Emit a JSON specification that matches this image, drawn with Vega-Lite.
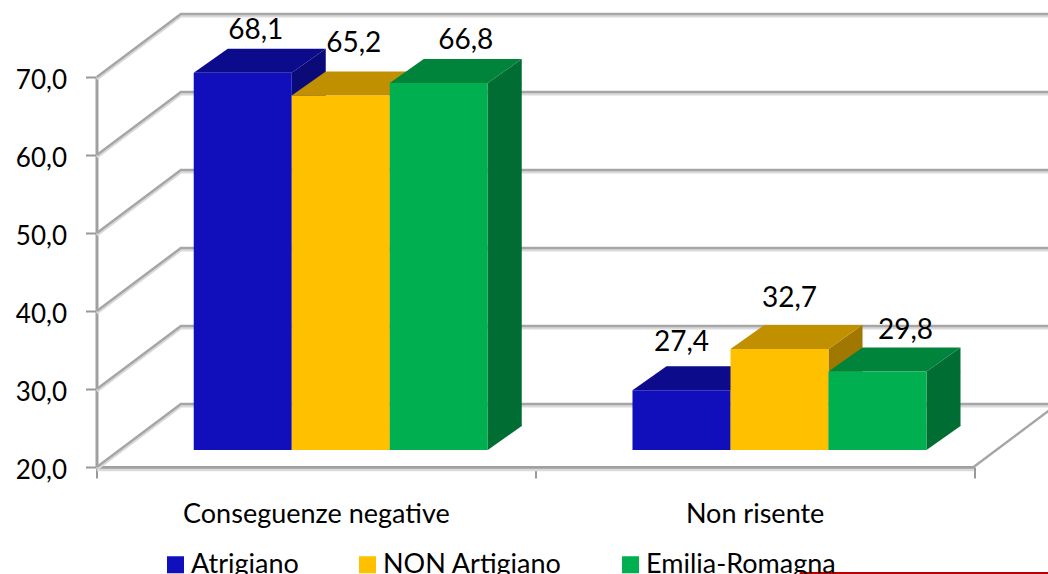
{
"$schema":"https://vega.github.io/schema/vega-lite/v6.json",
"width":877.5,"height":390,
"autosize":{"type":"none"},
"padding":{"left":96.5,"top":77,"right":74,"bottom":107},
"background":"white",
"config":{"view":{"stroke":null},"locale":{"number":{"decimal":",","thousands":".","grouping":[3],"currency":["","€"]}},"font":"Lato"},
"data":{"values":[
{"categoria":"Conseguenze negative","serie":"Atrigiano","valore":68.1},
{"categoria":"Conseguenze negative","serie":"NON Artigiano","valore":65.2},
{"categoria":"Conseguenze negative","serie":"Emilia-Romagna","valore":66.8},
{"categoria":"Non risente","serie":"Atrigiano","valore":27.4},
{"categoria":"Non risente","serie":"NON Artigiano","valore":32.7},
{"categoria":"Non risente","serie":"Emilia-Romagna","valore":29.8}
]},
"encoding":{
"x":{"field":"categoria","type":"nominal","scale":{"domain":["Conseguenze negative","Non risente"],"paddingInner":0,"paddingOuter":0},
"axis":{"title":null,"labelAngle":0,"labelFont":"Lato","labelFontSize":27,"labelColor":"#000","labelPadding":23,"domainColor":"#A0A0A0","domainWidth":3,"tickColor":"#999","tickWidth":2,"tickSize":11,"tickBand":"extent","labelLimit":400}},
"xOffset":{"field":"serie","type":"nominal","scale":{"domain":["Atrigiano","NON Artigiano","Emilia-Romagna"],"padding":0,"range":[121.25,317.25]}},
"y":{"field":"valore","type":"quantitative","scale":{"domain":[20,70],"nice":false,"zero":false},
"axis":{"title":null,"values":[20,30,40,50,60,70],"format":".1f","grid":false,"labelFont":"Lato","labelFontSize":26,"labelColor":"#000","labelPadding":19,"labelOffset":3,"domainColor":"#A0A0A0","domainWidth":3,"tickColor":"#999","tickWidth":2,"tickSize":11}}
},
"layer":[
{"data":{"values":[{"tick":20},{"tick":30},{"tick":40},{"tick":50},{"tick":60},{"tick":70}]},
 "mark":{"type":"point","shape":"M-219,2 L-135,-61 L740,-61","size":4,"filled":false,"fill":null,"stroke":"#DADADA","strokeWidth":3,"opacity":1},
 "encoding":{"x":{"datum":"Conseguenze negative"},"xOffset":null,"y":{"field":"tick","type":"quantitative"}}},
{"data":{"values":[{"tick":20},{"tick":30},{"tick":40},{"tick":50},{"tick":60},{"tick":70}]},
 "mark":{"type":"point","shape":"M-219,0 L-135,-63 L740,-63","size":4,"filled":false,"fill":null,"stroke":"#A6A6A6","strokeWidth":2.5,"opacity":1},
 "encoding":{"x":{"datum":"Conseguenze negative"},"xOffset":null,"y":{"field":"tick","type":"quantitative"}}},
{"data":{"values":[{"tick":20}]},
 "mark":{"type":"point","shape":"M-219,3 L658,3","size":4,"filled":false,"fill":null,"stroke":"#DADADA","strokeWidth":2.5,"opacity":1},
 "encoding":{"x":{"datum":"Conseguenze negative"},"xOffset":null,"y":{"field":"tick","type":"quantitative"}}},
{"data":{"values":[{"tick":20}]},
 "mark":{"type":"point","shape":"M219,0 L299,-60","size":4,"filled":false,"fill":null,"stroke":"#A6A6A6","strokeWidth":2.5,"opacity":1},
 "encoding":{"x":{"datum":"Non risente"},"xOffset":null,"y":{"field":"tick","type":"quantitative"}}},
{"data":{"values":[{"tick":20}]},
 "mark":{"type":"point","shape":"M45,106 L300,106","size":4,"filled":false,"fill":null,"stroke":"#C00000","strokeWidth":2,"opacity":1},
 "encoding":{"x":{"datum":"Non risente"},"xOffset":null,"y":{"field":"tick","type":"quantitative"}}},
{"mark":{"type":"bar","width":34,"yOffset":-19,"y2Offset":-41},
 "encoding":{"xOffset":{"field":"serie","type":"nominal","scale":{"domain":["Atrigiano","NON Artigiano","Emilia-Romagna"],"paddingInner":0,"paddingOuter":0.737,"range":[91,529.5]}},"y2":{"datum":20},"color":{"field":"serie","type":"nominal","legend":null,"scale":{"domain":["Atrigiano","NON Artigiano","Emilia-Romagna"],"range":["#0A0A78","#A07800","#006E32"]}}}},
{"mark":{"type":"point","shape":"M74,-19 L108,-43 L108,-18.5 L74,-18.5 Z","size":4,"filled":true,"opacity":1},
 "encoding":{"color":{"field":"serie","type":"nominal","legend":null,"scale":{"domain":["Atrigiano","NON Artigiano","Emilia-Romagna"],"range":["#0A0A78","#A07800","#006E32"]}}}},
{"mark":{"type":"point","shape":"M74,-17 L108,-41 L108,-41.5 L74,-41.5 Z","size":4,"filled":true,"opacity":1},
 "encoding":{"y":{"datum":20},"color":{"field":"serie","type":"nominal","legend":null,"scale":{"domain":["Atrigiano","NON Artigiano","Emilia-Romagna"],"range":["#0A0A78","#A07800","#006E32"]}}}},
{"mark":{"type":"point","shape":"M-24,-19 L74,-19 L108,-43 L10,-43 Z","size":4,"filled":true,"opacity":1},
 "encoding":{"color":{"field":"serie","type":"nominal","legend":null,"scale":{"domain":["Atrigiano","NON Artigiano","Emilia-Romagna"],"range":["#0B0B8C","#C09000","#00843C"]}}}},
{"mark":{"type":"bar","yOffset":-19,"y2Offset":-17},
 "encoding":{"xOffset":{"field":"serie","type":"nominal","scale":{"domain":["Atrigiano","NON Artigiano","Emilia-Romagna"],"paddingInner":0,"paddingOuter":0.737,"range":[25,463.5]}},"y2":{"datum":20},"color":{"field":"serie","type":"nominal","scale":{"domain":["Atrigiano","NON Artigiano","Emilia-Romagna"],"range":["#100FBB","#FFC000","#00B050"]},
 "legend":{"orient":"none","legendX":65.5,"legendY":474,"direction":"horizontal","columns":3,"title":null,"symbolType":"square","symbolSize":289,"symbolStrokeWidth":0,"labelFont":"Lato","labelFontSize":27,"labelColor":"#000","labelOffset":2,"columnPadding":55,"labelLimit":400}}}},
{"transform":[{"filter":"datum.categoria=='Conseguenze negative' && datum.serie=='Atrigiano'"}],
 "mark":{"type":"text","font":"Lato","fontSize":28,"color":"#000","dx":38,"dy":-61,"baseline":"middle"},"encoding":{"text":{"field":"valore","type":"quantitative","format":".1f"}}},
{"transform":[{"filter":"datum.categoria=='Conseguenze negative' && datum.serie=='NON Artigiano'"}],
 "mark":{"type":"text","font":"Lato","fontSize":28,"color":"#000","dx":38,"dy":-70,"baseline":"middle"},"encoding":{"text":{"field":"valore","type":"quantitative","format":".1f"}}},
{"transform":[{"filter":"datum.categoria=='Conseguenze negative' && datum.serie=='Emilia-Romagna'"}],
 "mark":{"type":"text","font":"Lato","fontSize":28,"color":"#000","dx":52,"dy":-61,"baseline":"middle"},"encoding":{"text":{"field":"valore","type":"quantitative","format":".1f"}}},
{"transform":[{"filter":"datum.categoria=='Non risente' && datum.serie=='Atrigiano'"}],
 "mark":{"type":"text","font":"Lato","fontSize":28,"color":"#000","dx":25,"dy":-66,"baseline":"middle"},"encoding":{"text":{"field":"valore","type":"quantitative","format":".1f"}}},
{"transform":[{"filter":"datum.categoria=='Non risente' && datum.serie=='NON Artigiano'"}],
 "mark":{"type":"text","font":"Lato","fontSize":28,"color":"#000","dx":35,"dy":-69,"baseline":"middle"},"encoding":{"text":{"field":"valore","type":"quantitative","format":".1f"}}},
{"transform":[{"filter":"datum.categoria=='Non risente' && datum.serie=='Emilia-Romagna'"}],
 "mark":{"type":"text","font":"Lato","fontSize":28,"color":"#000","dx":53,"dy":-60,"baseline":"middle"},"encoding":{"text":{"field":"valore","type":"quantitative","format":".1f"}}}
],
"resolve":{"scale":{"color":"independent","xOffset":"independent"}}
}
